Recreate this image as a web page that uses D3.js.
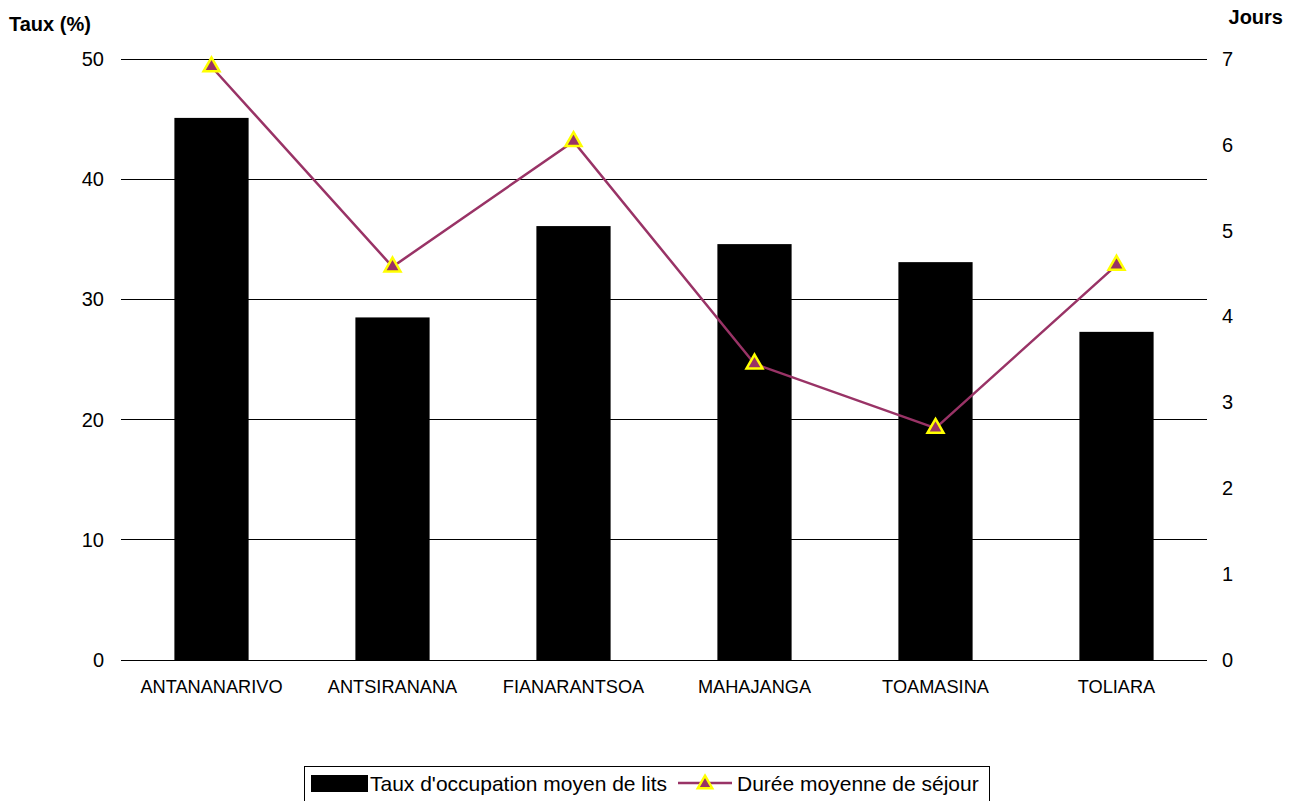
<!DOCTYPE html>
<html><head><meta charset="utf-8">
<script src="https://cdn.jsdelivr.net/npm/d3@7"></script>
<style>body{margin:0;background:#fff;}svg{font-family:"Liberation Sans",Arial,sans-serif;}</style>
</head><body><svg id="c" width="1297" height="801"></svg>
<script>
const categories = ["ANTANANARIVO","ANTSIRANANA","FIANARANTSOA","MAHAJANGA","TOAMASINA","TOLIARA"];
const tauxOccupation = [45.1, 28.5, 36.1, 34.6, 33.1, 27.3];
const dureeSejour = [6.91, 4.58, 6.04, 3.45, 2.70, 4.60];
const leftTicks = [0,10,20,30,40,50];
const rightTicks = [0,1,2,3,4,5,6,7];

const FONT = "Liberation Sans, Arial, sans-serif";
const svg = d3.select("#c");
const L = 121, R = 1207, T = 59, B = 660;
const x = d3.scaleBand().domain(categories).range([L, R]).paddingInner(0.59).paddingOuter(0.295);
const yL = d3.scaleLinear().domain([0,50]).range([B, T]);
const yR = d3.scaleLinear().domain([0,7]).range([B, T]);

// gridlines
svg.append("g").selectAll("line").data(leftTicks).join("line")
  .attr("x1", L).attr("x2", R).attr("y1", d=>yL(d)).attr("y2", d=>yL(d))
  .attr("stroke", "#000").attr("stroke-width", 1).attr("shape-rendering","crispEdges");

// left axis labels
const axL = svg.append("g").attr("transform", `translate(${L},0)`)
  .call(d3.axisLeft(yL).tickValues(leftTicks).tickSize(0).tickPadding(17).tickFormat(d3.format("d")));
axL.select(".domain").remove();
axL.attr("font-size", 20).attr("font-family", FONT);
axL.selectAll("text").attr("fill", "#000");

const axR = svg.append("g").attr("transform", `translate(${R},0)`)
  .call(d3.axisRight(yR).tickValues(rightTicks).tickSize(0).tickPadding(15).tickFormat(d3.format("d")));
axR.select(".domain").remove();
axR.attr("font-size", 20).attr("font-family", FONT);
axR.selectAll("text").attr("fill", "#000");

// bars
svg.append("g").selectAll("rect").data(categories).join("rect")
  .attr("x", d=>x(d)).attr("width", x.bandwidth())
  .attr("y", (d,i)=>yL(tauxOccupation[i])).attr("height", (d,i)=>B - yL(tauxOccupation[i]))
  .attr("fill", "#000");

// baseline
svg.append("line").attr("x1", L).attr("x2", R).attr("y1", B).attr("y2", B)
  .attr("stroke","#000").attr("shape-rendering","crispEdges");

// x labels
const axX = svg.append("g").attr("transform", `translate(0,${B})`)
  .call(d3.axisBottom(x).tickSize(0).tickPadding(20));
axX.select(".domain").remove();
axX.attr("font-size", 18.2).attr("font-family", FONT);
axX.selectAll("text").attr("fill", "#000");

// line
const cx = d => x(d) + x.bandwidth()/2;
const line = d3.line().x((d,i)=>cx(categories[i])).y(d=>yR(d));
svg.append("path").datum(dureeSejour).attr("d", line)
  .attr("fill","none").attr("stroke","#993366").attr("stroke-width",2.5);

const tri = d3.symbol().type(d3.symbolTriangle).size(110);
svg.append("g").selectAll("path").data(dureeSejour).join("path")
  .attr("d", tri)
  .attr("transform", (d,i)=>`translate(${cx(categories[i])},${yR(d)})`)
  .attr("fill","#993366").attr("stroke","#ffff00").attr("stroke-width",2.5);

// axis titles
svg.append("text").attr("x", 9).attr("y", 31).attr("font-size", 20).attr("font-weight","bold").text("Taux (%)");
svg.append("text").attr("x", 1283).attr("y", 24).attr("text-anchor","end").attr("font-size", 20).attr("font-weight","bold").text("Jours");

// legend
const lg = svg.append("g");
lg.append("rect").attr("x", 304.5).attr("y", 766.5).attr("width", 685).attr("height", 40)
  .attr("fill","#fff").attr("stroke","#000").attr("stroke-width",1);
lg.append("rect").attr("x", 311).attr("y", 775).attr("width", 57).attr("height", 17).attr("fill","#000");
lg.append("text").attr("x", 370).attr("y", 791).attr("font-size", 21).text("Taux d'occupation moyen de lits");
lg.append("line").attr("x1", 678).attr("x2", 732).attr("y1", 783).attr("y2", 783)
  .attr("stroke","#993366").attr("stroke-width",2.5);
lg.append("path").attr("d", d3.symbol().type(d3.symbolTriangle).size(90))
  .attr("transform","translate(705,784)").attr("fill","#993366").attr("stroke","#ffff00").attr("stroke-width",2.5);
lg.append("text").attr("x", 737).attr("y", 791).attr("font-size", 21).text("Durée moyenne de séjour");
</script></body></html>
